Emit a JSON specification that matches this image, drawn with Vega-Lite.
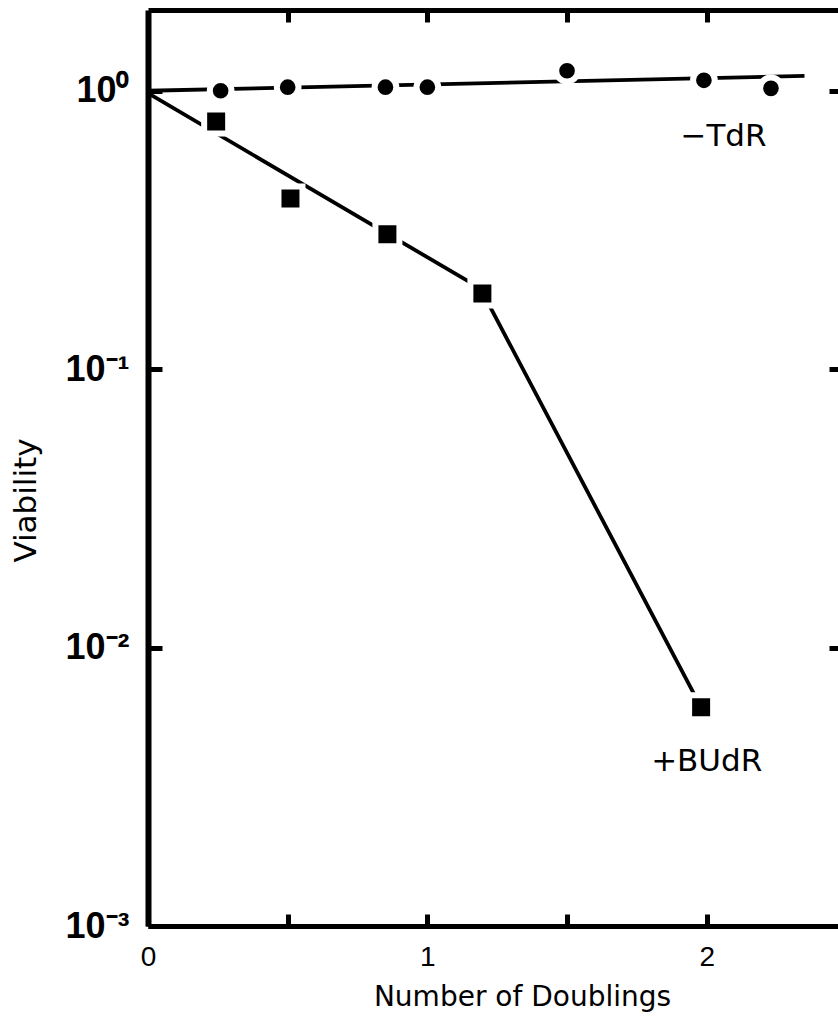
{
  "$schema": "https://vega.github.io/schema/vega-lite/v6.json",
  "width": 690,
  "height": 916,
  "autosize": {"type": "none"},
  "padding": {"left": 148, "top": 10, "right": 0, "bottom": 90},
  "background": "white",
  "config": {
    "view": {"stroke": null},
    "font": "Liberation Sans",
    "axis": {"grid": false, "domainColor": "#000", "tickColor": "#000", "labelColor": "#000", "titleColor": "#000"}
  },
  "datasets": {
    "lines": [
      {"series": "-TdR", "x": 0, "v": 1.0},
      {"series": "-TdR", "x": 2.35, "v": 1.13},
      {"series": "+BUdR", "x": 0, "v": 0.98},
      {"series": "+BUdR", "x": 1.19, "v": 0.195},
      {"series": "+BUdR", "x": 1.98, "v": 0.0061}
    ],
    "points": [
      {"series": "-TdR", "x": 0.26, "v": 1.0},
      {"series": "-TdR", "x": 0.5, "v": 1.03},
      {"series": "-TdR", "x": 0.85, "v": 1.03},
      {"series": "-TdR", "x": 1.0, "v": 1.03},
      {"series": "-TdR", "x": 1.5, "v": 1.18},
      {"series": "-TdR", "x": 1.99, "v": 1.09},
      {"series": "-TdR", "x": 2.23, "v": 1.02},
      {"series": "+BUdR", "x": 0.244, "v": 0.775},
      {"series": "+BUdR", "x": 0.51, "v": 0.41},
      {"series": "+BUdR", "x": 0.857, "v": 0.305},
      {"series": "+BUdR", "x": 1.197, "v": 0.187},
      {"series": "+BUdR", "x": 1.98, "v": 0.0061}
    ],
    "labels": [
      {"label": "−TdR", "x": 2.06, "v": 0.684},
      {"label": "+BUdR", "x": 2.0, "v": 0.00387}
    ]
  },
  "resolve": {"axis": {"x": "independent", "y": "independent"}},
  "layer": [
    {
      "data": {"name": "lines"},
      "transform": [{"filter": "datum.series == '-TdR'"}],
      "mark": {"type": "line", "color": "#000", "strokeWidth": 3.8},
      "encoding": {
        "x": {
          "field": "x", "type": "quantitative",
          "scale": {"domain": [0, 2.47], "nice": false, "zero": false},
          "axis": {
            "orient": "bottom", "values": [0, 0.5, 1, 1.5, 2],
            "labelExpr": "datum.value % 1 == 0 ? format(datum.value, 'd') : ''",
            "domainWidth": 5, "tickWidth": 5, "tickSize": -12,
            "labelPadding": 29, "labelFontSize": 28, "labelFont": "Liberation Sans",
            "labelBaseline": "top", "labelFlush": false, "labelOverlap": false,
            "title": "Number of Doublings", "titleFontSize": 28, "titleFontWeight": "normal",
            "titleFont": "DejaVu Sans", "titleX": 374, "titleY": 79, "titleBaseline": "alphabetic", "titleAlign": "center"
          }
        },
        "y": {
          "field": "v", "type": "quantitative",
          "scale": {"type": "log", "domain": [0.001, 1.95], "nice": false},
          "axis": {
            "orient": "left", "values": [0.001, 0.01, 0.1, 1],
            "labelExpr": "datum.value == 1 ? '10⁰' : datum.value == 0.1 ? '10⁻¹' : datum.value == 0.01 ? '10⁻²' : '10⁻³'",
            "domainWidth": 6, "tickWidth": 5, "tickSize": -14,
            "labelPadding": 33, "labelFontSize": 36, "labelFontWeight": "bold", "labelFont": "Liberation Sans",
            "labelBaseline": "middle", "labelFlush": false, "labelOverlap": false,
            "title": "Viability", "titleFontSize": 31, "titleFontWeight": "normal", "titleFont": "DejaVu Sans",
            "titleAngle": -90, "titleX": -122, "titleY": 490, "titleBaseline": "middle", "titleAlign": "center"
          }
        }
      }
    },
    {
      "data": {"name": "lines"},
      "transform": [{"filter": "datum.series == '+BUdR'"}],
      "mark": {"type": "line", "color": "#000", "strokeWidth": 3.8},
      "encoding": {
        "x": {
          "field": "x", "type": "quantitative",
          "axis": {
            "orient": "top", "values": [0.5, 1, 1.5, 2], "labels": false, "title": null,
            "domainWidth": 5, "tickWidth": 5, "tickSize": -12
          }
        },
        "y": {
          "field": "v", "type": "quantitative",
          "axis": {
            "orient": "right", "values": [0.01, 0.1, 1], "labels": false, "title": null,
            "domain": false, "tickWidth": 5, "tickSize": -9
          }
        }
      }
    },
    {
      "data": {"name": "points"},
      "transform": [{"filter": "datum.series == '-TdR'"}],
      "mark": {"type": "point", "shape": "circle", "filled": true, "color": "#000", "stroke": "white", "strokeWidth": 6, "size": 470, "strokeOpacity": 1, "opacity": 1},
      "encoding": {
        "x": {"field": "x", "type": "quantitative", "axis": null},
        "y": {"field": "v", "type": "quantitative", "axis": null}
      }
    },
    {
      "data": {"name": "points"},
      "transform": [{"filter": "datum.series == '+BUdR'"}],
      "mark": {"type": "point", "shape": "square", "filled": true, "color": "#000", "stroke": "white", "strokeWidth": 6, "size": 576, "strokeOpacity": 1, "opacity": 1},
      "encoding": {
        "x": {"field": "x", "type": "quantitative", "axis": null},
        "y": {"field": "v", "type": "quantitative", "axis": null}
      }
    },
    {
      "data": {"name": "labels"},
      "mark": {"type": "text", "font": "DejaVu Sans", "fontSize": 31, "color": "#000", "align": "center", "baseline": "middle"},
      "encoding": {
        "x": {"field": "x", "type": "quantitative", "axis": null},
        "y": {"field": "v", "type": "quantitative", "axis": null},
        "text": {"field": "label"}
      }
    }
  ]
}
